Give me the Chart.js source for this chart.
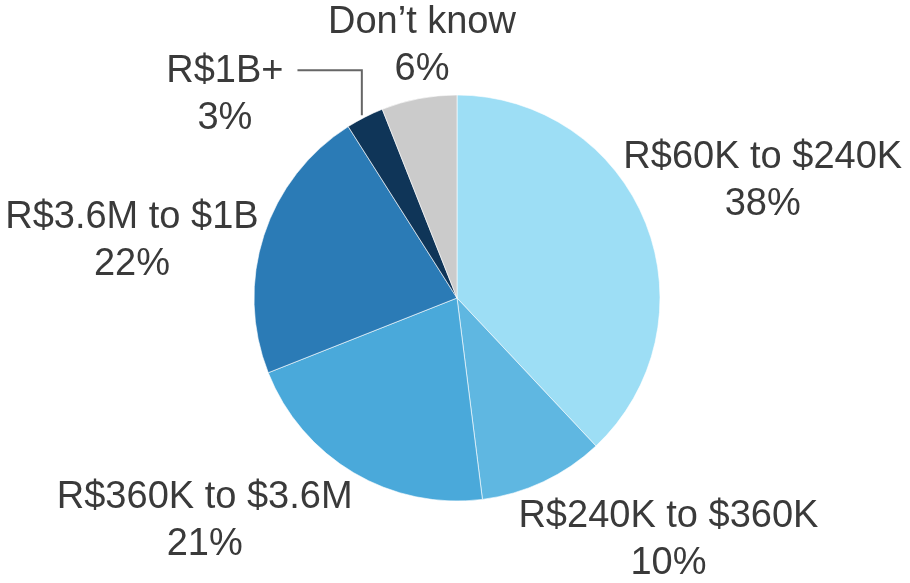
<!DOCTYPE html>
<html>
<head>
<meta charset="utf-8">
<script src="https://cdn.jsdelivr.net/npm/chart.js@4.4.1/dist/chart.umd.min.js"></script>
<style>
  html, body { margin: 0; padding: 0; background: #ffffff; }
  #wrap { width: 910px; height: 583px; }
</style>
</head>
<body>
<div id="wrap"><canvas id="pie" width="910" height="583"></canvas></div>
<script>
// data (share of respondents, %)
var categories = ['R$60K to $240K', 'R$240K to $360K', 'R$360K to $3.6M', 'R$3.6M to $1B', 'R$1B+', 'Don\u2019t know'];
var shares = [38, 10, 21, 22, 3, 6];
var sliceColors = ['#9ddef5', '#5fb7e1', '#4aa9da', '#2b7bb6', '#0f3558', '#cbcbcb'];

// where each label sits, relative to the middle of the slice's outer edge (px)
var labelOffsets = [[117, -55], [125, 45], [-149, 35], [-132, -7], [-140, -35], [3, -66]];
var leaderFor = [false, false, false, false, true, false];

var pieLabels = {
    id: 'pieLabels',
    afterDatasetsDraw: function(chart) {
        var ctx = chart.ctx;
        var meta = chart.getDatasetMeta(0);
        ctx.save();
        ctx.font = '38px "Liberation Sans", Arial, sans-serif';
        ctx.fillStyle = '#3a3a3a';
        ctx.textAlign = 'center';
        ctx.textBaseline = 'alphabetic';
        meta.data.forEach(function(arc, i) {
            var p = arc.getProps(['x', 'y', 'startAngle', 'endAngle', 'outerRadius'], true);
            var mid = (p.startAngle + p.endAngle) / 2;
            var ex = p.x + Math.cos(mid) * p.outerRadius;
            var ey = p.y + Math.sin(mid) * p.outerRadius;
            var lx = ex + labelOffsets[i][0];
            var ly = ey + labelOffsets[i][1];
            ctx.fillText(categories[i], lx, ly);
            ctx.fillText(shares[i] + '%', lx, ly + 47);
            if (leaderFor[i]) {
                var w = ctx.measureText(categories[i]).width;
                var ty = ly - 12;
                ctx.beginPath();
                ctx.strokeStyle = '#666666';
                ctx.lineWidth = 2;
                ctx.moveTo(ex - 3, ey - 2);
                ctx.lineTo(ex - 3, ty);
                ctx.lineTo(lx + w / 2 + 14, ty);
                ctx.stroke();
            }
        });
        ctx.restore();
    }
};

var ctx = document.getElementById('pie').getContext('2d');
var chart = new Chart(ctx, {
    type: 'pie',
    data: {
        labels: categories,
        datasets: [{
            data: shares,
            backgroundColor: sliceColors,
            borderColor: 'rgba(255,255,255,0.6)',
            borderWidth: 1
        }]
    },
    options: {
        responsive: false,
        animation: false,
        radius: 203,
        layout: {
            padding: { left: 254, right: 250, top: 95, bottom: 82 }
        },
        plugins: {
            legend: { display: false },
            tooltip: { enabled: false }
        }
    },
    plugins: [pieLabels]
});
</script>
</body>
</html>
